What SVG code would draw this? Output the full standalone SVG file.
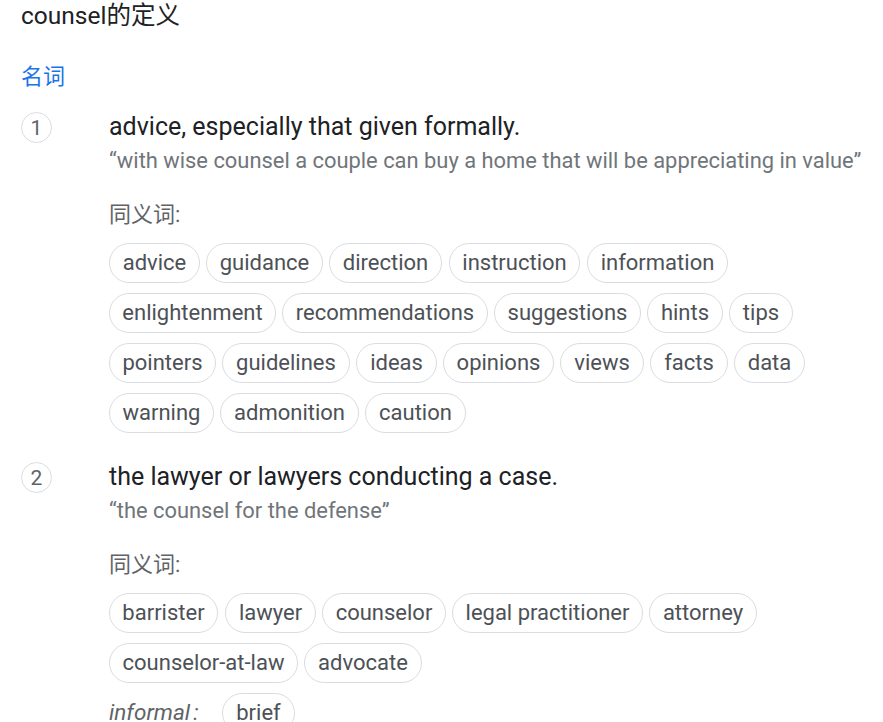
<svg xmlns="http://www.w3.org/2000/svg" width="883" height="722" viewBox="0 0 883 722">
<style>
text{font-family:Roboto,"Noto Sans CJK SC","Liberation Sans",sans-serif}
.t{font-size:24.5px;fill:#202124}
.pos{font-size:22px;fill:#1a73e8}
.num{font-size:21px;fill:#5f6368;text-anchor:middle}
.def{font-size:25px;fill:#202124}
.ex{font-size:21.9px;fill:#70757a}
.syn{font-size:22px;fill:#5f6368}
.circ{fill:#fff;stroke:#dadce0;stroke-width:1}
.chip rect{fill:#fff;stroke:#dadce0;stroke-width:1}
.chip text{font-size:22px;fill:#4d5156;text-anchor:middle}
.inf{font-size:22.5px;fill:#5f6368;font-style:italic}
</style>
<rect width="883" height="722" fill="#fff"/>
<text class="t" x="21" y="24">counsel的定义</text>
<text class="pos" x="21" y="84">名词</text>

<g id="sense1">
<circle class="circ" cx="36.5" cy="127.5" r="15"/>
<text class="num" x="36.5" y="135">1</text>
<text class="def" x="109" y="135">advice, especially that given formally.</text>
<text class="ex" x="109" y="168">“with wise counsel a couple can buy a home that will be appreciating in value”</text>
<text class="syn" x="109" y="222">同义词:</text>
</g>

<g id="chip-advice" class="chip"><rect x="109.5" y="243.5" width="90" height="39" rx="19.5"/><text x="154.5" y="270">advice</text></g>
<g id="chip-guidance" class="chip"><rect x="206.5" y="243.5" width="116" height="39" rx="19.5"/><text x="264.5" y="270">guidance</text></g>
<g id="chip-direction" class="chip"><rect x="329.5" y="243.5" width="112" height="39" rx="19.5"/><text x="385.5" y="270">direction</text></g>
<g id="chip-instruction" class="chip"><rect x="449.5" y="243.5" width="130" height="39" rx="19.5"/><text x="514.5" y="270">instruction</text></g>
<g id="chip-information" class="chip"><rect x="587.5" y="243.5" width="140" height="39" rx="19.5"/><text x="657.5" y="270">information</text></g>

<g id="chip-enlightenment" class="chip"><rect x="109.5" y="293.5" width="166" height="39" rx="19.5"/><text x="192.5" y="320">enlightenment</text></g>
<g id="chip-recommendations" class="chip"><rect x="282.5" y="293.5" width="205" height="39" rx="19.5"/><text x="385" y="320">recommendations</text></g>
<g id="chip-suggestions" class="chip"><rect x="494.5" y="293.5" width="146" height="39" rx="19.5"/><text x="567.5" y="320">suggestions</text></g>
<g id="chip-hints" class="chip"><rect x="647.5" y="293.5" width="75" height="39" rx="19.5"/><text x="685" y="320">hints</text></g>
<g id="chip-tips" class="chip"><rect x="729.5" y="293.5" width="63" height="39" rx="19.5"/><text x="761" y="320">tips</text></g>

<g id="chip-pointers" class="chip"><rect x="109.5" y="343.5" width="106" height="39" rx="19.5"/><text x="162.5" y="370">pointers</text></g>
<g id="chip-guidelines" class="chip"><rect x="222.5" y="343.5" width="127" height="39" rx="19.5"/><text x="286" y="370">guidelines</text></g>
<g id="chip-ideas" class="chip"><rect x="356.5" y="343.5" width="80" height="39" rx="19.5"/><text x="396.5" y="370">ideas</text></g>
<g id="chip-opinions" class="chip"><rect x="443.5" y="343.5" width="110" height="39" rx="19.5"/><text x="498.5" y="370">opinions</text></g>
<g id="chip-views" class="chip"><rect x="560.5" y="343.5" width="83" height="39" rx="19.5"/><text x="602" y="370">views</text></g>
<g id="chip-facts" class="chip"><rect x="650.5" y="343.5" width="77" height="39" rx="19.5"/><text x="689" y="370">facts</text></g>
<g id="chip-data" class="chip"><rect x="734.5" y="343.5" width="70" height="39" rx="19.5"/><text x="769.5" y="370">data</text></g>

<g id="chip-warning" class="chip"><rect x="109.5" y="393.5" width="104" height="39" rx="19.5"/><text x="161.5" y="420">warning</text></g>
<g id="chip-admonition" class="chip"><rect x="220.5" y="393.5" width="138" height="39" rx="19.5"/><text x="289.5" y="420">admonition</text></g>
<g id="chip-caution" class="chip"><rect x="365.5" y="393.5" width="100" height="39" rx="19.5"/><text x="415.5" y="420">caution</text></g>

<g id="sense2">
<circle class="circ" cx="36.5" cy="477.5" r="15"/>
<text class="num" x="36.5" y="485">2</text>
<text class="def" x="109" y="485">the lawyer or lawyers conducting a case.</text>
<text class="ex" x="109" y="518">“the counsel for the defense”</text>
<text class="syn" x="109" y="572">同义词:</text>
</g>

<g id="chip-barrister" class="chip"><rect x="109.5" y="593.5" width="108" height="39" rx="19.5"/><text x="163.5" y="620">barrister</text></g>
<g id="chip-lawyer" class="chip"><rect x="225.5" y="593.5" width="90" height="39" rx="19.5"/><text x="270.5" y="620">lawyer</text></g>
<g id="chip-counselor" class="chip"><rect x="322.5" y="593.5" width="123" height="39" rx="19.5"/><text x="384" y="620">counselor</text></g>
<g id="chip-legal-practitioner" class="chip"><rect x="452.5" y="593.5" width="190" height="39" rx="19.5"/><text x="547.5" y="620">legal practitioner</text></g>
<g id="chip-attorney" class="chip"><rect x="649.5" y="593.5" width="107" height="39" rx="19.5"/><text x="703" y="620">attorney</text></g>

<g id="chip-counselor-at-law" class="chip"><rect x="109.5" y="643.5" width="188" height="39" rx="19.5"/><text x="203.5" y="670">counselor-at-law</text></g>
<g id="chip-advocate" class="chip"><rect x="304.5" y="643.5" width="117" height="39" rx="19.5"/><text x="363" y="670">advocate</text></g>

<text class="inf" x="109" y="720">informal<tspan dx="3">:</tspan></text>
<g id="chip-brief" class="chip"><rect x="222.5" y="693.5" width="72" height="39" rx="19.5"/><text x="258.5" y="720">brief</text></g>
</svg>
